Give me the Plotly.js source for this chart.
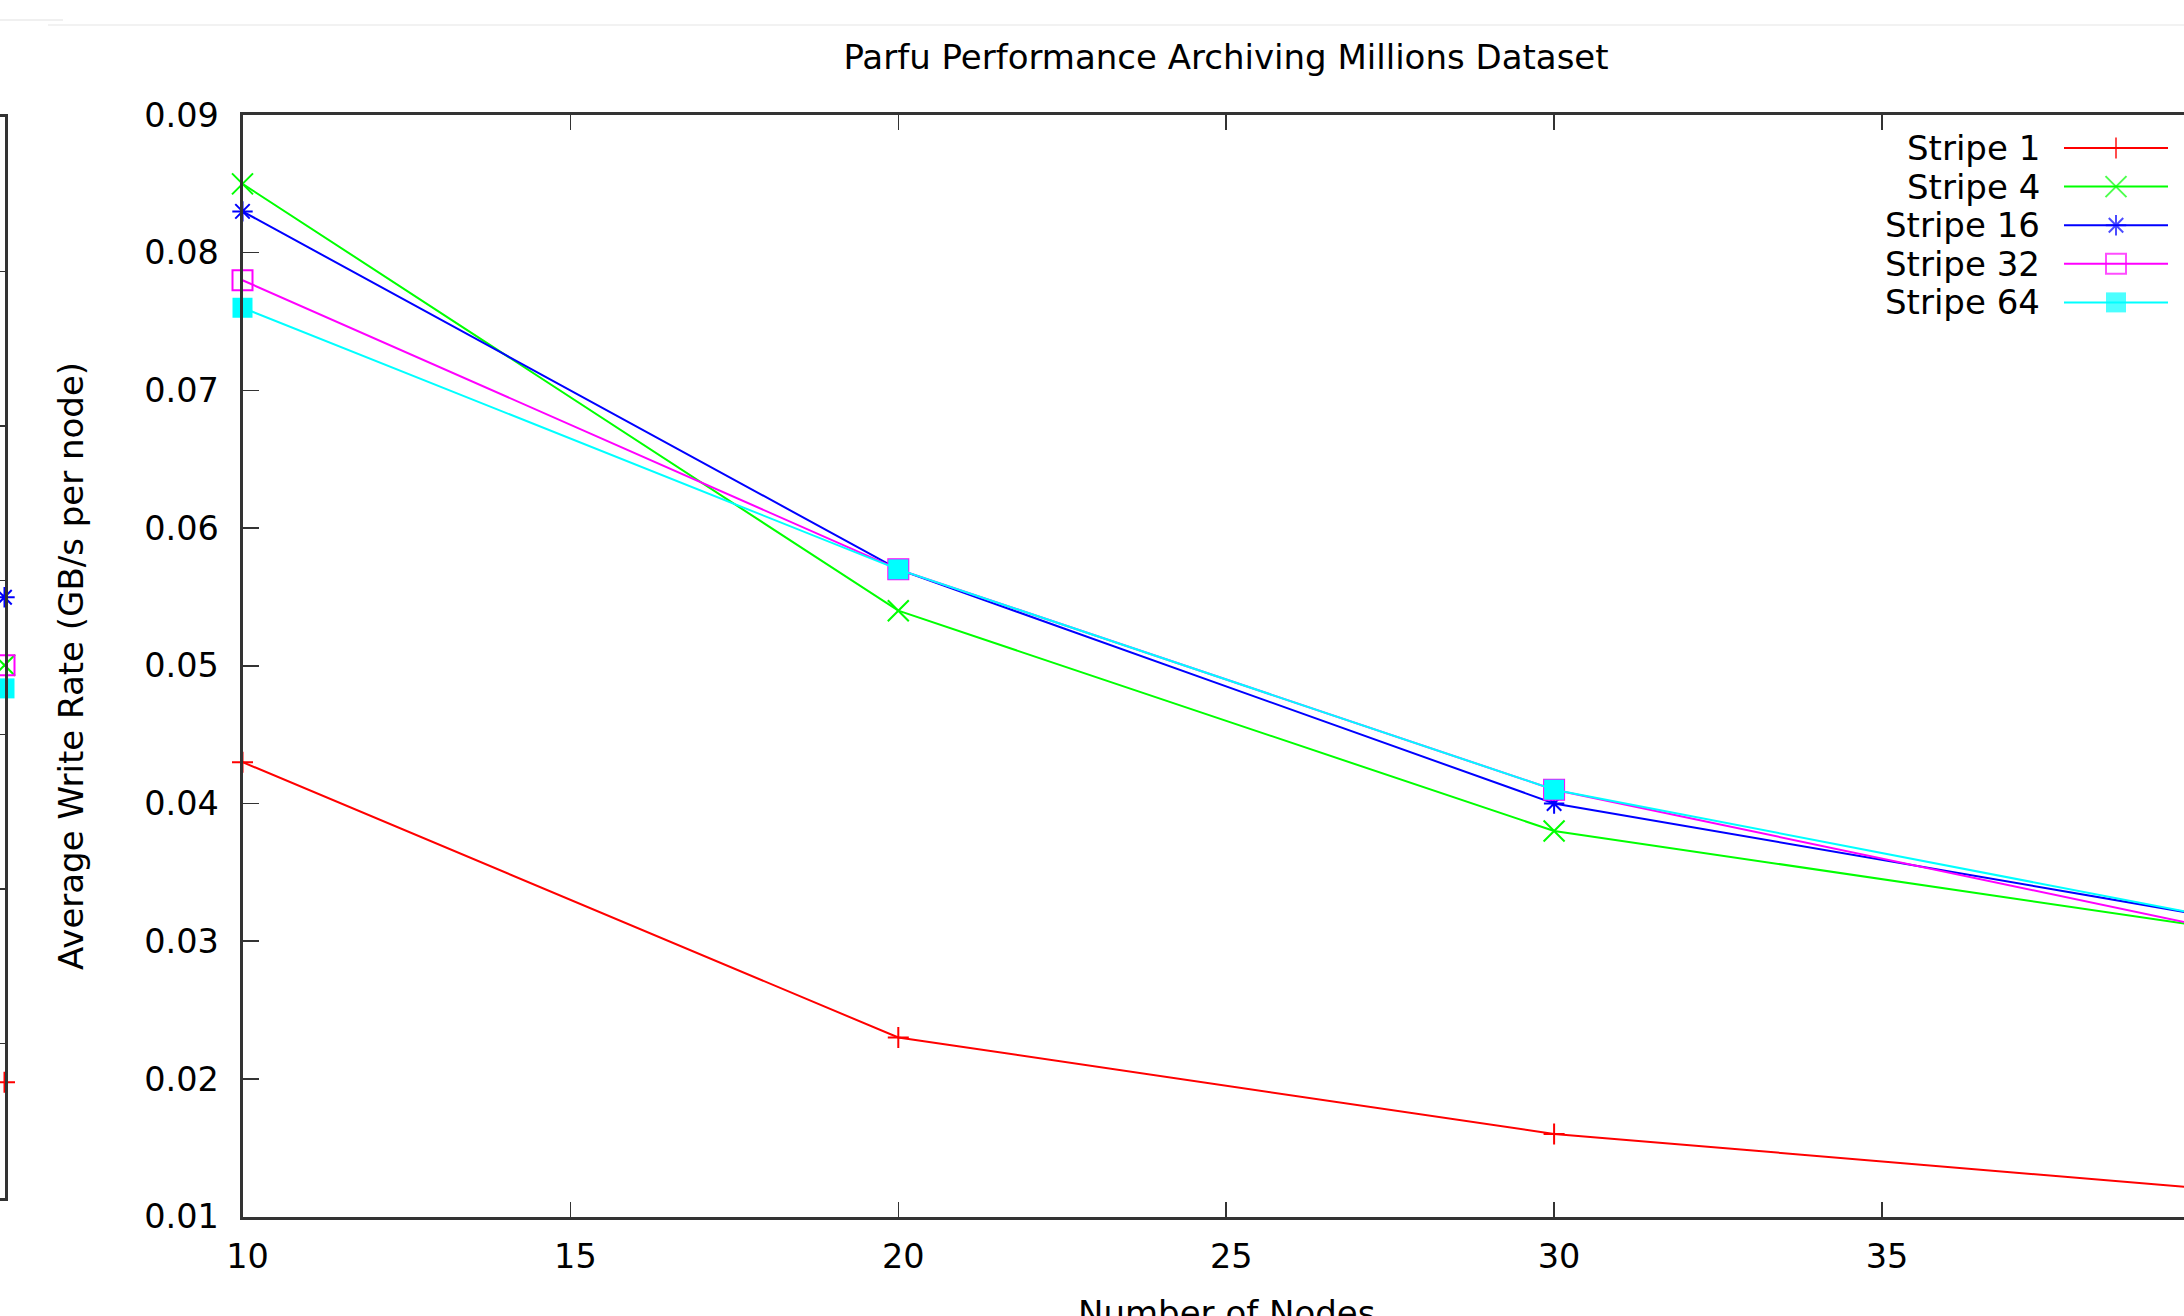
<!DOCTYPE html>
<html>
<head>
<meta charset="utf-8">
<script src="https://cdn.plot.ly/plotly-3.0.1.min.js"></script>
<style>html,body{margin:0;padding:0;background:#fff;}#chart{width:2184px;height:1316px;}</style>
</head>
<body>
<div id="chart"></div>
<script>
// ---- data ----
const nodes = [10, 20, 30, 40];
const seriesNames = ["Stripe 1", "Stripe 4", "Stripe 16", "Stripe 32", "Stripe 64"];
const stripe1 = [0.043, 0.023, 0.016, 0.012];
const stripe4 = [0.085, 0.054, 0.038, 0.031];
const stripe16 = [0.083, 0.057, 0.040, 0.0318];
const stripe32 = [0.078, 0.057, 0.041, 0.031];
const stripe64 = [0.076, 0.057, 0.041, 0.0318];
// neighbouring (cut-off) chart on the left: only its last point (40 nodes) is visible
const leftNodes = [40];
const leftStripe1 = [0.0175];
const leftStripe4 = [0.0445];
const leftStripe16 = [0.0489];
const leftStripe32 = [0.0445];
const leftStripe64 = [0.043];
const yTicks = [0.01, 0.02, 0.03, 0.04, 0.05, 0.06, 0.07, 0.08, 0.09];
const xTicks = [10, 15, 20, 25, 30, 35];

// ---- styles ----
const W = 2184, H = 1316;
const colors = ["#ff0000", "#00ff00", "#0000ff", "#ff00ff", "#00ffff"];
const symbols = ["cross-thin-open", "x-thin-open", "asterisk-open", "square-open", "square"];
const sizes = [15, 21, 17, 20, 20];
const mainSeries = [stripe1, stripe4, stripe16, stripe32, stripe64];
const leftSeries = [leftStripe1, leftStripe4, leftStripe16, leftStripe32, leftStripe64];
const FONT = "DejaVu Sans, Liberation Sans, sans-serif";
const FS = 34;

function markerFor(i, size) {
  const filled = symbols[i] === "square";
  return {
    symbol: symbols[i], size: size, color: colors[i],
    line: {color: colors[i], width: filled ? 0 : 2}
  };
}

const traces = [];
mainSeries.forEach((ys, i) => {
  traces.push({
    type: "scatter", mode: "lines+markers", x: nodes, y: ys, name: seriesNames[i],
    xaxis: "x", yaxis: "y", cliponaxis: false, showlegend: false,
    line: {color: colors[i], width: 2}, marker: markerFor(i, sizes[i])
  });
});
leftSeries.forEach((ys, i) => {
  traces.push({
    type: "scatter", mode: "markers", x: leftNodes, y: ys, name: seriesNames[i],
    xaxis: "x2", yaxis: "y2", cliponaxis: false, showlegend: false,
    marker: markerFor(i, sizes[i]), hoverinfo: "skip"
  });
});
// gnuplot-style key (text right, sample to the right) on a hidden helper axis
seriesNames.forEach((n, i) => {
  traces.push({
    type: "scatter", mode: "lines+markers", x: [0, 0.5, 1], y: [i, i, i],
    xaxis: "x3", yaxis: "y3", cliponaxis: false, showlegend: false, hoverinfo: "skip",
    line: {color: colors[i], width: 2},
    marker: Object.assign(markerFor(i, sizes[i]), {size: [0, sizes[i], 0]})
  });
});

const axisCommon = {
  showgrid: false, zeroline: false, showline: true, linecolor: "#333", linewidth: 3,
  ticks: "inside", tickcolor: "#333", tickwidth: 1.5,
  tickfont: {family: FONT, size: 33.5, color: "#000"}
};
const plotLeft = 242.5, pxPerNode = 65.58;

const annotations = [
  {text: "Average Write Rate (GB/s per node)", textangle: -90, xref: "paper", yref: "paper",
   x: 71 / W, y: 1 - 666 / H, xanchor: "center", yanchor: "middle", showarrow: false,
   font: {family: FONT, size: FS, color: "#000"}},
  {text: "Number of Nodes", xref: "paper", yref: "paper",
   x: 1226 / W, y: 1 - 1313 / H, xanchor: "center", yanchor: "middle", showarrow: false,
   font: {family: FONT, size: FS, color: "#000"}}
];
seriesNames.forEach((n, i) => {
  annotations.push({text: n, xref: "x3", yref: "y3", x: 0, y: i, xanchor: "right", yanchor: "middle",
    xshift: -22, showarrow: false, font: {family: FONT, size: FS, color: "#000"}});
});

const layout = {
  width: W, height: H,
  margin: {l: 0, r: 0, t: 0, b: 0, pad: 0},
  paper_bgcolor: "#fff", plot_bgcolor: "rgba(0,0,0,0)",
  font: {family: FONT, size: FS, color: "#000"},
  showlegend: false,
  title: {text: "Parfu Performance Archiving Millions Dataset",
    font: {family: FONT, size: FS, color: "#000"},
    xref: "paper", yref: "paper", x: 1226 / W, y: 1 - 57 / H, xanchor: "center", yanchor: "middle"},
  xaxis: Object.assign({}, axisCommon, {
    domain: [plotLeft / W, 1], range: [10, 10 + (W - plotLeft) / pxPerNode],
    tickvals: xTicks, ticklen: 15, mirror: "ticks", anchor: "y",
    ticklabelstandoff: 8, ticklabelshift: 5
  }),
  yaxis: Object.assign({}, axisCommon, {
    domain: [(H - 1216.5) / H, (H - 115) / H], range: [0.01, 0.09],
    tickvals: yTicks, tickformat: ".2f", ticklen: 16, anchor: "x",
    ticklabelstandoff: 14
  }),
  xaxis2: Object.assign({}, axisCommon, {
    domain: [0, 4.5 / W], range: [39, 40], tickvals: [40], ticklen: 15,
    mirror: "ticks", anchor: "y2", ticklabelstandoff: 8, ticklabelshift: 5
  }),
  yaxis2: Object.assign({}, axisCommon, {
    domain: [(H - 1198) / H, (H - 117) / H], range: [0.01, 0.08], dtick: 0.01, tick0: 0.01,
    side: "right", showticklabels: false, ticklen: 16, anchor: "x2"
  }),
  xaxis3: {domain: [2064 / W, 2168 / W], range: [0, 1], visible: false, fixedrange: true, anchor: "y3"},
  yaxis3: {domain: [(H - 321.7) / H, (H - 128.7) / H], range: [4.5, -0.5], visible: false, fixedrange: true, anchor: "x3"},
  annotations: annotations,
  shapes: [
    {type: "line", xref: "paper", yref: "paper", x0: 0, x1: 63 / W, y0: 1 - 20 / H, y1: 1 - 20 / H,
     line: {color: "#f0f0f0", width: 2}},
    {type: "line", xref: "paper", yref: "paper", x0: 48 / W, x1: 1, y0: 1 - 25 / H, y1: 1 - 25 / H,
     line: {color: "#f2f2f2", width: 2}}
  ]
};

Plotly.newPlot("chart", traces, layout, {displayModeBar: false, staticPlot: true});
</script>
</body>
</html>
